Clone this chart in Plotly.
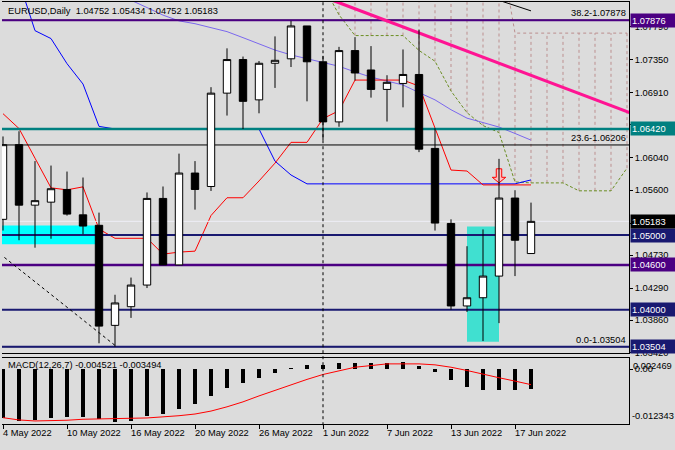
import plotly.graph_objects as go

# ---------------- data ----------------
DATES = ["4 May 2022", "5 May 2022", "6 May 2022", "9 May 2022", "10 May 2022", "11 May 2022",
         "12 May 2022", "13 May 2022", "16 May 2022", "17 May 2022", "18 May 2022", "19 May 2022",
         "20 May 2022", "23 May 2022", "24 May 2022", "25 May 2022", "26 May 2022", "27 May 2022",
         "30 May 2022", "31 May 2022", "1 Jun 2022", "2 Jun 2022", "3 Jun 2022", "6 Jun 2022",
         "7 Jun 2022", "8 Jun 2022", "9 Jun 2022", "10 Jun 2022", "13 Jun 2022", "14 Jun 2022",
         "15 Jun 2022", "16 Jun 2022", "17 Jun 2022", "20 Jun 2022"]

OPEN = [1.0521, 1.0621, 1.0540, 1.0544, 1.0561, 1.0527, 1.0513, 1.0379, 1.0404, 1.0433,
        1.0549, 1.0460, 1.0583, 1.0565, 1.0690, 1.0735, 1.0681, 1.0730, 1.0736, 1.0780,
        1.0732, 1.06515, 1.0747, 1.0721, 1.0695, 1.0703, 1.0715, 1.0616, 1.05155, 1.0405,
        1.0416, 1.0445, 1.05495, 1.04752]
HIGH = [1.0632, 1.0639, 1.0599, 1.0593, 1.0585, 1.0577, 1.0530, 1.0420, 1.0443, 1.0557,
        1.0565, 1.0609, 1.0599, 1.0698, 1.0750, 1.0739, 1.0733, 1.0766, 1.07869, 1.0780,
        1.0740, 1.0752, 1.0765, 1.0753, 1.0714, 1.07485, 1.0775, 1.0643, 1.0521, 1.0485,
        1.05075, 1.0602, 1.0560, 1.05434]
LOW = [1.0506, 1.0493, 1.0483, 1.0495, 1.0526, 1.0501, 1.0355, 1.03504, 1.0389, 1.0429,
       1.0460, 1.0460, 1.0534, 1.0559, 1.0660, 1.0642, 1.0663, 1.0697, 1.0725, 1.0679,
       1.0627, 1.0645, 1.0707, 1.0684, 1.0652, 1.0671, 1.0611, 1.0506, 1.0400, 1.0397,
       1.0358, 1.0382, 1.0445, 1.04752]
CLOSE = [1.0621, 1.0540, 1.0546, 1.0562, 1.0528, 1.0512, 1.0378, 1.0409, 1.0433, 1.0549,
         1.0460, 1.0583, 1.0561, 1.0690, 1.0735, 1.0679, 1.0730, 1.0734, 1.0780, 1.0732,
         1.06515, 1.0747, 1.0717, 1.0695, 1.07045, 1.0715, 1.0615, 1.0516, 1.0405, 1.0416,
         1.0445, 1.05495, 1.0493, 1.05183]

TENKAN = [1.06625, 1.06426, 1.06029, 1.05632, 1.05605, 1.05645, 1.05080, 1.04956, 1.04956, 1.04956,
          1.04744, 1.04771, 1.04784, 1.05261, 1.05499, 1.05499, 1.05724, 1.05963, 1.06241, 1.06241,
          1.06559, 1.06665, 1.07075, 1.07075, 1.07075, 1.07075, 1.06995, 1.06426, 1.05870, 1.05857,
          1.05671, 1.05671, 1.05671, 1.05671]
KIJUN = [1.08800, 1.08394, 1.07737, 1.07631, 1.07295, 1.07022, 1.06455, 1.06420, 1.06420, 1.06420,
         1.06420, 1.06420, 1.06420, 1.06420, 1.06420, 1.06420, 1.06420, 1.05989, 1.05804, 1.05685,
         1.05685, 1.05685, 1.05685, 1.05685, 1.05685, 1.05685, 1.05685, 1.05685, 1.05685, 1.05685,
         1.05685, 1.05685, 1.05685, 1.05738]
SLATE_MA = [None, None, None, None, None, None,
            1.08346, 1.08240, 1.08145, 1.08046, 1.07945, 1.07868, 1.07830, 1.07777, 1.07724, 1.07643,
            1.07560, 1.07477, 1.07412, 1.07359, 1.07313, 1.07260, 1.07184, 1.07115, 1.07062, 1.07009,
            1.06908, 1.06810, 1.06678, 1.06565, 1.06506, 1.06446, 1.06360, 1.06271]
BLACK_MA = [None] * 30 + [1.08214, 1.08141, 1.08068, 1.08002]

SPAN_FIRST_INDEX = 19
SPAN_A = [1.08677, 1.08346, 1.07949, 1.07671, 1.07671, 1.07671, 1.07671, 1.07472, 1.07327, 1.06929,
          1.06638, 1.06466, 1.06373, 1.05711, 1.05698, 1.05698, 1.05698, 1.05592, 1.05592, 1.05592,
          1.05896]
SPAN_B = [1.08942] * 13 + [1.07704] * 8

MACD_MAIN = [-0.01101, -0.01161, -0.01139, -0.01101, -0.01066, -0.01066, -0.01117, -0.01176, -0.01154,
             -0.01044, -0.01013, -0.00895, -0.00792, -0.00601, -0.00424, -0.00314, -0.00203, -0.00093,
             0.00027, 0.00099, 0.00099, 0.00128, 0.00144, 0.00137, 0.00144, 0.00166, 0.00077,
             -0.00071, -0.00254, -0.00402, -0.00465, -0.00465, -0.00465, -0.004521]
MACD_SIGNAL = [-0.01088, -0.01139, -0.01161, -0.01161, -0.01145, -0.01123, -0.01110, -0.01101, -0.01101,
               -0.01094, -0.01072, -0.01044, -0.01006, -0.00940, -0.00845, -0.00734, -0.00601, -0.00475,
               -0.00343, -0.00232, -0.00122, -0.00049, 0.00040, 0.00077, 0.00115, 0.00115, 0.00115,
               0.00093, 0.00040, -0.00033, -0.00122, -0.00195, -0.00270, -0.003494]
MACD_MAX_LABEL = 0.002469
MACD_MIN_LABEL = -0.012343

PRICE_TICKS = [1.0342, 1.0386, 1.0429, 1.0473, 1.0516, 1.0560, 1.0604, 1.0648, 1.0691, 1.0735, 1.0779]
H_LEVELS = [1.07876, 1.06420, 1.05000, 1.04600, 1.04000, 1.03504]
FIB_PERCENT = [38.2, 23.6, 0.0]
FIB_PRICES = [1.07878, 1.06206, 1.03504]
BID = 1.05183

CYAN_BOX = {"from": -1, "to": 6, "top": 1.05128, "bottom": 1.04877}
TURQ_BOX = {"from": 29, "to": 31, "top": 1.05115, "bottom": 1.0357}
PINK_TREND = {"i": [20, 40], "p": [1.08192, 1.06572]}
DASH_TREND = {"i": [-0.5, 7], "p": [1.04800, 1.03522]}
VLINE_INDEX = 20
ARROW = {"i": 31, "top": 1.05887, "neck": 1.05773, "tip": 1.05698}
TITLE = "EURUSD,Daily  1.04752 1.05434 1.04752 1.05183"
MACD_TITLE = "MACD(12,26,7) -0.004521 -0.003494"

# ---------------- styles / layout ----------------
W, H = 675, 450
BG = "#DCDCDC"
FONT = "Liberation Sans, Arial, sans-serif"
FS = 9.3
XMIN, XMAX = -0.0625, 39.125
YMIN, YMAX = 1.034195, 1.081210
PX_L, PX_R = 2, 629
MAIN_TOP, MAIN_BOT = 2, 357
MACD_TOP, MACD_BOT = 362, 429
INDIGO, NAVY, TEAL = "#4B0082", "#191970", "#008080"
LEVEL_STYLE = {1.07876: (INDIGO, 2), 1.06420: (TEAL, 2.5), 1.05000: (NAVY, 2),
               1.04600: (INDIGO, 2.5), 1.04000: (NAVY, 2), 1.03504: (NAVY, 2)}

idx = list(range(len(DATES)))
fig = go.Figure()


def line(x, y, color, width=1, dash=None, xa="x", ya="y"):
    fig.add_trace(go.Scatter(x=x, y=y, mode="lines", line=dict(color=color, width=width, dash=dash),
                             hoverinfo="skip", showlegend=False, xaxis=xa, yaxis=ya, connectgaps=False))


def box(b, color):
    fig.add_trace(go.Scatter(x=[b["from"], b["to"], b["to"], b["from"], b["from"]],
                             y=[b["bottom"], b["bottom"], b["top"], b["top"], b["bottom"]],
                             mode="lines", fill="toself", fillcolor=color, line=dict(width=0, color=color),
                             hoverinfo="skip", showlegend=False))


# background rectangles
box(CYAN_BOX, "#00FFFF")
box(TURQ_BOX, "#40E0D0")

# ichimoku cloud hatch
span_idx = [SPAN_FIRST_INDEX + k for k in range(len(SPAN_A))]
hx, hy = [], []
for i, a, b in zip(span_idx, SPAN_A, SPAN_B):
    hx += [i, i, None]
    hy += [a, b, None]
line(hx, hy, "#BC8F8F", 1, "3px,3px")
line(span_idx, SPAN_B, "#BC8F8F", 1, "3px,3px")
line(span_idx, SPAN_A, "#6B8E23", 1, "3px,2px")

# indicator lines
line(idx, SLATE_MA, "#7B68EE", 1)
line(idx, BLACK_MA, "#000000", 1)
line(idx, KIJUN, "#0000FF", 1)
line(idx, TENKAN, "#FF0000", 1)

# horizontal objects
xr = [XMIN - 1, XMAX + 1]
for p in FIB_PRICES:
    line(xr, [p, p], "#000000", 1)
line(xr, [BID, BID], "#EEEEF6", 1)
for p in H_LEVELS:
    c, w = LEVEL_STYLE[p]
    line(xr, [p, p], c, w)

# arrow
ai = ARROW["i"]
fig.add_trace(go.Scatter(
    x=[ai - 0.17, ai + 0.17, ai + 0.17, ai + 0.42, ai, ai - 0.42, ai - 0.17, ai - 0.17],
    y=[ARROW["top"], ARROW["top"], ARROW["neck"], ARROW["neck"], ARROW["tip"], ARROW["neck"],
       ARROW["neck"], ARROW["top"]],
    mode="lines", fill="toself", fillcolor="#FFC0C0", line=dict(color="#FF0000", width=1),
    hoverinfo="skip", showlegend=False))

# trend lines
line(PINK_TREND["i"], PINK_TREND["p"], "#FF1493", 3.2)
line(DASH_TREND["i"], DASH_TREND["p"], "#000000", 1, "3px,3px")

# candles on top (overlay axes)
fig.add_trace(go.Candlestick(
    x=idx, open=OPEN, high=HIGH, low=LOW, close=CLOSE,
    increasing=dict(fillcolor="#FFFFFF", line=dict(color="#000000", width=1)),
    decreasing=dict(fillcolor="#000000", line=dict(color="#000000", width=1)),
    whiskerwidth=0, xaxis="x3", yaxis="y3", showlegend=False, hoverinfo="skip"))

# MACD
fig.add_trace(go.Bar(x=idx, y=MACD_MAIN, width=0.19, marker=dict(color="#000000", line=dict(width=0)),
                     xaxis="x2", yaxis="y2", showlegend=False, hoverinfo="skip"))
line(idx, MACD_SIGNAL, "#FF0000", 1, None, "x2", "y2")


def py(px):
    return 1 - px / H


dom_x = [PX_L / W, PX_R / W]
axis_common = dict(showgrid=False, zeroline=False, fixedrange=True)
fig.update_layout(
    width=W, height=H, margin=dict(l=0, r=0, t=0, b=0),
    paper_bgcolor=BG, plot_bgcolor=BG, showlegend=False,
    font=dict(family=FONT, size=FS, color="#000000"),
    boxgap=0.34, bargap=0,
    xaxis=dict(domain=dom_x, range=[XMIN, XMAX], anchor="y", showticklabels=False, ticks="",
               showline=True, mirror=True, linecolor="#000000", linewidth=1,
               rangeslider=dict(visible=False), **axis_common),
    yaxis=dict(domain=[py(MAIN_BOT), py(MAIN_TOP)], range=[YMIN, YMAX], anchor="x", side="right",
               tickvals=PRICE_TICKS, ticktext=[f"{v:.5f}" for v in PRICE_TICKS],
               ticks="outside", ticklen=3, tickcolor="#000000", showline=True, mirror=False,
               linecolor="#000000", linewidth=1, tickfont=dict(family=FONT, size=FS), **axis_common),
    xaxis3=dict(overlaying="x", range=[XMIN, XMAX], anchor="y3", visible=False,
                rangeslider=dict(visible=False), **axis_common),
    yaxis3=dict(overlaying="y", range=[YMIN, YMAX], anchor="x3", visible=False, **axis_common),
    xaxis2=dict(domain=dom_x, range=[XMIN, XMAX], anchor="y2", showticklabels=False,
                tickvals=idx[::4], ticks="outside", ticklen=4, tickcolor="#000000",
                showline=True, mirror=True, linecolor="#000000", linewidth=1,
                rangeslider=dict(visible=False), **axis_common),
    yaxis2=dict(domain=[py(MACD_BOT), py(MACD_TOP)], range=[MACD_MIN_LABEL, MACD_MAX_LABEL],
                anchor="x2", side="right", tickvals=[0], ticktext=["0.00"], ticks="outside",
                ticklen=3, tickcolor="#000000", showline=True, mirror=False,
                linecolor="#000000", linewidth=1, tickfont=dict(family=FONT, size=FS), **axis_common),
)

# vertical separator line
fig.add_shape(type="line", xref="x", yref="paper", x0=VLINE_INDEX, x1=VLINE_INDEX,
              y0=py(MACD_BOT + 1), y1=py(MAIN_TOP), line=dict(color="#000000", width=1, dash="3px,3px"),
              layer="above")

ann = []
ann.append(dict(xref="paper", yref="paper", x=6 / W, y=py(11), xanchor="left", yanchor="middle",
                text=TITLE, showarrow=False))
ann.append(dict(xref="paper", yref="paper", x=6 / W, y=py(369), xanchor="left", yanchor="middle",
                text=MACD_TITLE, showarrow=False))
for pct, p in zip(FIB_PERCENT, FIB_PRICES):
    ann.append(dict(xref="paper", yref="y", x=628 / W, y=p, xanchor="right", yanchor="bottom",
                    text=f"{pct:.1f}-{p:.5f}", showarrow=False, yshift=0))
label_boxes = [(p, LEVEL_STYLE[p][0]) for p in H_LEVELS] + [(BID, "#000000")]
for p, c in label_boxes:
    ann.append(dict(xref="paper", yref="y", x=(PX_R + 1) / W, y=p, xanchor="left", yanchor="middle",
                    text=f"{p:.5f}", showarrow=False, bgcolor=c, font=dict(color="#FFFFFF"),
                    width=44, height=11, borderpad=1, align="left"))
for i in idx[::4]:
    ann.append(dict(xref="x2", yref="paper", x=i, y=py(438), xanchor="left", yanchor="middle",
                    text=DATES[i], showarrow=False, xshift=-2))
ann.append(dict(xref="paper", yref="y2", x=(PX_R + 2) / W, y=MACD_MAX_LABEL, xanchor="left",
                yanchor="top", text=f"{MACD_MAX_LABEL:.6f}", showarrow=False, yshift=-1))
ann.append(dict(xref="paper", yref="y2", x=(PX_R + 1) / W, y=MACD_MIN_LABEL, xanchor="left",
                yanchor="bottom", text=f"{MACD_MIN_LABEL:.6f}", showarrow=False, yshift=1))
fig.update_layout(annotations=ann)

fig.write_html("out.html", config={"displayModeBar": False, "staticPlot": True},
               post_script="document.body.style.margin='0';document.body.style.overflow='hidden';")
